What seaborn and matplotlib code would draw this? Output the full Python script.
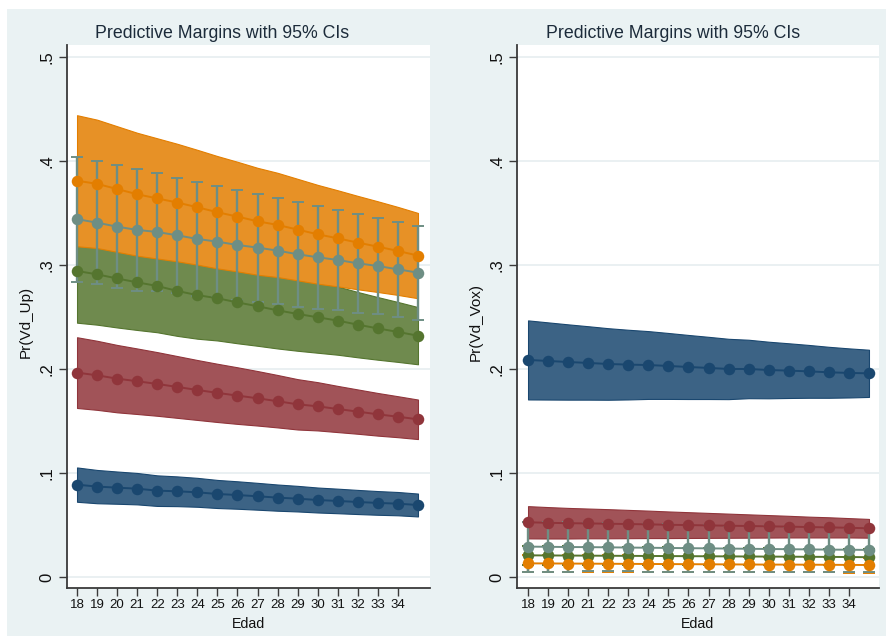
import matplotlib
matplotlib.use("Agg")
import matplotlib.pyplot as plt
from matplotlib.patches import Rectangle
import numpy as np
import pandas as pd
import seaborn as sns

# ---- data -------------------------------------------------------------
edad = [18, 19, 20, 21, 22, 23, 24, 25, 26, 27, 28, 29, 30, 31, 32, 33, 34, 35]
xtick_labels = [18, 19, 20, 21, 22, 23, 24, 25, 26, 27, 28, 29, 30, 31, 32, 33, 34]
ytick_values = [0, 0.1, 0.2, 0.3, 0.4, 0.5]
ytick_labels = ["0", ".1", ".2", ".3", ".4", ".5"]
grupos = ["Grupo 1", "Grupo 2", "Grupo 3", "Grupo 4", "Grupo 5"]

# Pr(Vd_Up): predicted margins and 95% CI half-widths
up_g1 = [0.0888, 0.0869, 0.0859, 0.0849, 0.0830, 0.0824, 0.0814, 0.0798, 0.0788,
         0.0776, 0.0763, 0.0753, 0.0740, 0.0731, 0.0721, 0.0712, 0.0705, 0.0692]
up_g1_ci = [0.0165, 0.0160, 0.0155, 0.0151, 0.0147, 0.0143, 0.0139, 0.0135, 0.0132,
            0.0129, 0.0126, 0.0123, 0.0120, 0.0118, 0.0116, 0.0114, 0.0112, 0.0110]
up_g2 = [0.1965, 0.1939, 0.1907, 0.1882, 0.1856, 0.1827, 0.1798, 0.1770, 0.1744,
         0.1718, 0.1690, 0.1660, 0.1641, 0.1615, 0.1590, 0.1564, 0.1541, 0.1516]
up_g2_ci = [0.0340, 0.0332, 0.0324, 0.0315, 0.0306, 0.0297, 0.0288, 0.0280, 0.0272,
            0.0262, 0.0252, 0.0242, 0.0232, 0.0222, 0.0213, 0.0205, 0.0197, 0.0190]
up_g3 = [0.2942, 0.2910, 0.2870, 0.2833, 0.2798, 0.2750, 0.2710, 0.2680, 0.2640,
         0.2603, 0.2564, 0.2529, 0.2497, 0.2465, 0.2426, 0.2390, 0.2356, 0.2320]
up_g3_ci = [0.0497, 0.0484, 0.0471, 0.0458, 0.0445, 0.0432, 0.0419, 0.0406, 0.0393,
            0.0380, 0.0367, 0.0354, 0.0341, 0.0328, 0.0314, 0.0301, 0.0288, 0.0275]
up_g4 = [0.3810, 0.3780, 0.3730, 0.3680, 0.3640, 0.3600, 0.3555, 0.3507, 0.3465,
         0.3420, 0.3385, 0.3340, 0.3295, 0.3256, 0.3215, 0.3176, 0.3135, 0.3090]
up_g4_ci = [0.0630, 0.0617, 0.0604, 0.0591, 0.0578, 0.0565, 0.0552, 0.0540, 0.0527,
            0.0514, 0.0501, 0.0488, 0.0475, 0.0462, 0.0449, 0.0436, 0.0423, 0.0410]
up_g5 = [0.3440, 0.3407, 0.3368, 0.3337, 0.3317, 0.3285, 0.3250, 0.3224, 0.3192,
         0.3167, 0.3138, 0.3103, 0.3074, 0.3048, 0.3016, 0.2990, 0.2958, 0.2926]
up_g5_ci = [0.0600, 0.0593, 0.0592, 0.0583, 0.0563, 0.0555, 0.0550, 0.0536, 0.0532,
            0.0519, 0.0509, 0.0506, 0.0493, 0.0481, 0.0474, 0.0462, 0.0458, 0.0452]

# Pr(Vd_Vox): predicted margins and 95% CI half-widths
vox_g1 = [0.2087, 0.2077, 0.2067, 0.2058, 0.2048, 0.2042, 0.2038, 0.2029, 0.2019,
          0.2010, 0.2000, 0.2000, 0.1990, 0.1984, 0.1977, 0.1968, 0.1962, 0.1958]
vox_g1_ci = [0.0380, 0.0371, 0.0362, 0.0353, 0.0344, 0.0335, 0.0326, 0.0317, 0.0308,
             0.0299, 0.0290, 0.0281, 0.0272, 0.0263, 0.0254, 0.0245, 0.0236, 0.0227]
vox_g2 = [0.0526, 0.0521, 0.0517, 0.0515, 0.0512, 0.0509, 0.0506, 0.0502, 0.0499,
          0.0496, 0.0493, 0.0490, 0.0487, 0.0484, 0.0480, 0.0477, 0.0473, 0.0468]
vox_g2_ci = [0.0155, 0.0151, 0.0147, 0.0143, 0.0140, 0.0136, 0.0132, 0.0128, 0.0124,
             0.0120, 0.0116, 0.0112, 0.0108, 0.0104, 0.0100, 0.0097, 0.0093, 0.0090]
vox_g3 = [0.0208, 0.0207, 0.0206, 0.0205, 0.0204, 0.0203, 0.0202, 0.0201, 0.0200,
          0.0199, 0.0198, 0.0197, 0.0196, 0.0195, 0.0194, 0.0193, 0.0192, 0.0190]
vox_g3_ci = [0.0090, 0.0089, 0.0088, 0.0087, 0.0086, 0.0085, 0.0084, 0.0083, 0.0082,
             0.0081, 0.0080, 0.0079, 0.0078, 0.0078, 0.0077, 0.0076, 0.0076, 0.0075]
vox_g4 = [0.0131, 0.0130, 0.0129, 0.0128, 0.0127, 0.0126, 0.0125, 0.0124, 0.0123,
          0.0122, 0.0121, 0.0120, 0.0119, 0.0119, 0.0118, 0.0117, 0.0116, 0.0115]
vox_g4_ci = [0.0085, 0.0084, 0.0083, 0.0082, 0.0082, 0.0081, 0.0080, 0.0079, 0.0078,
             0.0078, 0.0077, 0.0076, 0.0075, 0.0075, 0.0074, 0.0073, 0.0073, 0.0072]
vox_g5 = [0.0292, 0.0290, 0.0288, 0.0287, 0.0285, 0.0283, 0.0281, 0.0279, 0.0277,
          0.0275, 0.0273, 0.0271, 0.0269, 0.0267, 0.0265, 0.0263, 0.0262, 0.0260]
vox_g5_ci = [0.0240, 0.0238, 0.0236, 0.0234, 0.0232, 0.0230, 0.0229, 0.0227, 0.0225,
             0.0223, 0.0221, 0.0220, 0.0218, 0.0216, 0.0214, 0.0213, 0.0211, 0.0210]

# ---- styling ----------------------------------------------------------
colores = {"Grupo 1": "#1a476f", "Grupo 2": "#90353b", "Grupo 3": "#55752f",
           "Grupo 4": "#e37e00", "Grupo 5": "#6e8e84"}
BG = "#eaf2f3"
TITLE_C = "#1c2b3a"


def lighten(hex_color, k=0.85):
    rgb = np.array(matplotlib.colors.to_rgb(hex_color))
    return tuple(rgb * k + (1 - k))


sns.set_theme(style="white")
plt.rcParams["font.family"] = ["Liberation Sans", "DejaVu Sans"]

fig = plt.figure(figsize=(8.86, 6.36), dpi=100, facecolor="white")
fig.patches.append(Rectangle((7 / 886, 0), 1, (636 - 9) / 636, transform=fig.transFigure,
                             facecolor=BG, edgecolor="none", zorder=-10))


def panel(ax, series, bandas, barras, ylabel, xlim):
    medias = {g: m for g, (m, c) in series.items()}
    # shaded confidence bands
    for g in bandas:
        m, c = series[g]
        m = np.array(m); c = np.array(c)
        ax.fill_between(edad, m - c, m + c, facecolor=lighten(colores[g]),
                        edgecolor=colores[g], linewidth=0.8, zorder=2)
    # capped confidence spikes
    for g in barras:
        m, c = series[g]
        ax.errorbar(edad, m, yerr=c, fmt="none", ecolor=colores[g], elinewidth=1.7,
                    capsize=4.4, capthick=1.4, zorder=3)
    df = pd.DataFrame([(a, v, g) for g in grupos for a, v in zip(edad, medias[g])],
                      columns=["Edad", "prob", "grupo"])
    sns.lineplot(data=df, x="Edad", y="prob", hue="grupo", hue_order=grupos,
                 palette=colores, marker="o", markersize=8.3, markeredgewidth=0,
                 linewidth=1.4, estimator=None, legend=False, ax=ax, zorder=5)

    ax.set_facecolor("white")
    ax.set_xlim(*xlim)
    ax.set_ylim(-0.0106, 0.5115)
    ax.set_yticks(ytick_values)
    ax.set_yticklabels(ytick_labels)
    ax.set_xticks(xtick_labels)
    ax.set_xticklabels([str(v) for v in xtick_labels])
    ax.yaxis.grid(True, color="#e6eef0", linewidth=1.2, zorder=0)
    ax.xaxis.grid(False)
    ax.set_axisbelow(True)
    for s in ("top", "right"):
        ax.spines[s].set_visible(False)
    for s in ("left", "bottom"):
        ax.spines[s].set_color("#3a3a3a")
        ax.spines[s].set_linewidth(1.3)
    ax.tick_params(axis="y", which="major", left=True, length=6, width=1.0,
                   color="#3a3a3a", pad=3.0, labelsize=12, labelrotation=90,
                   labelcolor="#111111")
    for t in ax.get_yticklabels():
        t.set_va("center")
    ax.tick_params(axis="x", which="major", bottom=True, length=6, width=1.0,
                   color="#3a3a3a", pad=2, labelsize=9.5, labelcolor="#111111")
    ax.set_ylabel(ylabel, fontsize=11, color="#111111")
    ax.yaxis.set_label_coords(-0.094, 0.49)
    ax.set_xlabel("Edad", fontsize=10.2, color="#111111")
    ax.xaxis.set_label_coords(0.5, -0.053)


ax1 = fig.add_axes([67 / 886, 48 / 636, 363 / 886, 543 / 636])
ax2 = fig.add_axes([517 / 886, 48 / 636, 362 / 886, 543 / 636])

serie_up = {"Grupo 1": (up_g1, up_g1_ci), "Grupo 2": (up_g2, up_g2_ci),
            "Grupo 3": (up_g3, up_g3_ci), "Grupo 4": (up_g4, up_g4_ci),
            "Grupo 5": (up_g5, up_g5_ci)}
serie_vox = {"Grupo 1": (vox_g1, vox_g1_ci), "Grupo 2": (vox_g2, vox_g2_ci),
             "Grupo 3": (vox_g3, vox_g3_ci), "Grupo 4": (vox_g4, vox_g4_ci),
             "Grupo 5": (vox_g5, vox_g5_ci)}

panel(ax1, serie_up, ["Grupo 1", "Grupo 2", "Grupo 3", "Grupo 4"], ["Grupo 5"],
      "Pr(Vd_Up)", (17.5, 35.6))
panel(ax2, serie_vox, ["Grupo 1", "Grupo 2"], ["Grupo 3", "Grupo 4", "Grupo 5"],
      "Pr(Vd_Vox)", (17.45, 35.5))

fig.text(222 / 886, 1 - 33 / 636, "Predictive Margins with 95% CIs", ha="center",
         va="center", fontsize=12.8, color=TITLE_C)
fig.text(673 / 886, 1 - 33 / 636, "Predictive Margins with 95% CIs", ha="center",
         va="center", fontsize=12.8, color=TITLE_C)

fig.savefig("out.png", dpi=100, facecolor=fig.get_facecolor())
